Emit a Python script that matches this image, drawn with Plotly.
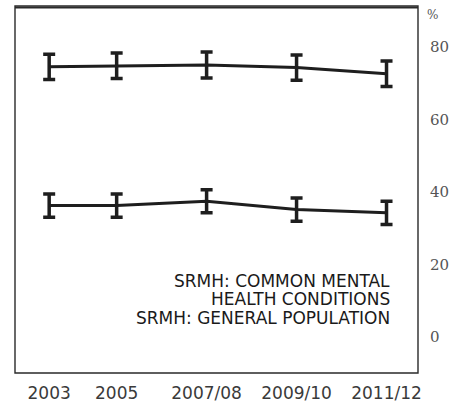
import plotly.graph_objects as go

years = ["2003", "2005", "2007/08", "2009/10", "2011/12"]
x_index = [0, 0.75, 1.75, 2.75, 3.75]

common_mental = [74.5, 74.8, 75.0, 74.3, 72.6]
common_mental_err = [3.5, 3.5, 3.6, 3.5, 3.5]

general_pop = [36.2, 36.2, 37.4, 35.1, 34.2]
general_pop_err = [3.2, 3.2, 3.2, 3.2, 3.2]

label_lines = ["SRMH: COMMON MENTAL", "HEALTH CONDITIONS", "SRMH: GENERAL POPULATION"]

LINE = "#1e1e1e"

fig = go.Figure()

for vals, errs, name in [(common_mental, common_mental_err, "SRMH: common mental health conditions"),
                         (general_pop, general_pop_err, "SRMH: general population")]:
    fig.add_trace(go.Scatter(
        x=x_index, y=vals,
        mode="lines",
        line=dict(color=LINE, width=3),
        error_y=dict(type="data", array=errs, visible=True,
                     color=LINE, thickness=3.5, width=6),
        name=name,
        showlegend=False,
    ))

# frame round the plot area
fig.add_shape(type="rect", xref="paper", yref="paper",
              x0=0, y0=0, x1=1, y1=1,
              line=dict(color="#2a2a2a", width=1.4))
# top edge drawn on its own, a touch heavier
fig.add_shape(type="line", xref="paper", yref="paper",
              x0=0, y0=0.996, x1=1, y1=0.996,
              line=dict(color="#2a2a2a", width=2))

# label block, one line at a time so the spacing stays tight
for i, txt in enumerate(label_lines):
    fig.add_annotation(
        x=0.9355, y=0.2507 - i * 0.0504, xref="paper", yref="paper",
        xanchor="right", yanchor="middle",
        text=txt, showarrow=False,
        font=dict(family="DejaVu Sans", size=17, color="#1a1a1a"),
    )

fig.add_annotation(
    x=1.037, y=0.975, xref="paper", yref="paper",
    xanchor="center", yanchor="middle",
    text="%", showarrow=False,
    font=dict(family="DejaVu Serif", size=12, color="#555"),
)

fig.update_layout(
    width=461, height=402,
    margin=dict(l=15, r=43, t=6, b=29, autoexpand=False),
    paper_bgcolor="white",
    plot_bgcolor="white",
    xaxis=dict(
        range=[-0.38, 4.1],
        tickvals=x_index, ticktext=years,
        showgrid=False, zeroline=False,
        ticks="outside", ticklen=5, tickcolor="rgba(0,0,0,0)",
        tickfont=dict(family="DejaVu Sans", size=17, color="#3a3a3a"),
    ),
    yaxis=dict(
        range=[-10, 91.3],
        side="right",
        tickvals=[0, 20, 40, 60, 80],
        showgrid=False, zeroline=False,
        ticks="outside", ticklen=8, tickcolor="rgba(0,0,0,0)",
        tickfont=dict(family="DejaVu Serif", size=15, color="#555"),
    ),
)

fig.write_html("out.html", config={"displayModeBar": False},
               post_script="document.body.style.margin='0';")
